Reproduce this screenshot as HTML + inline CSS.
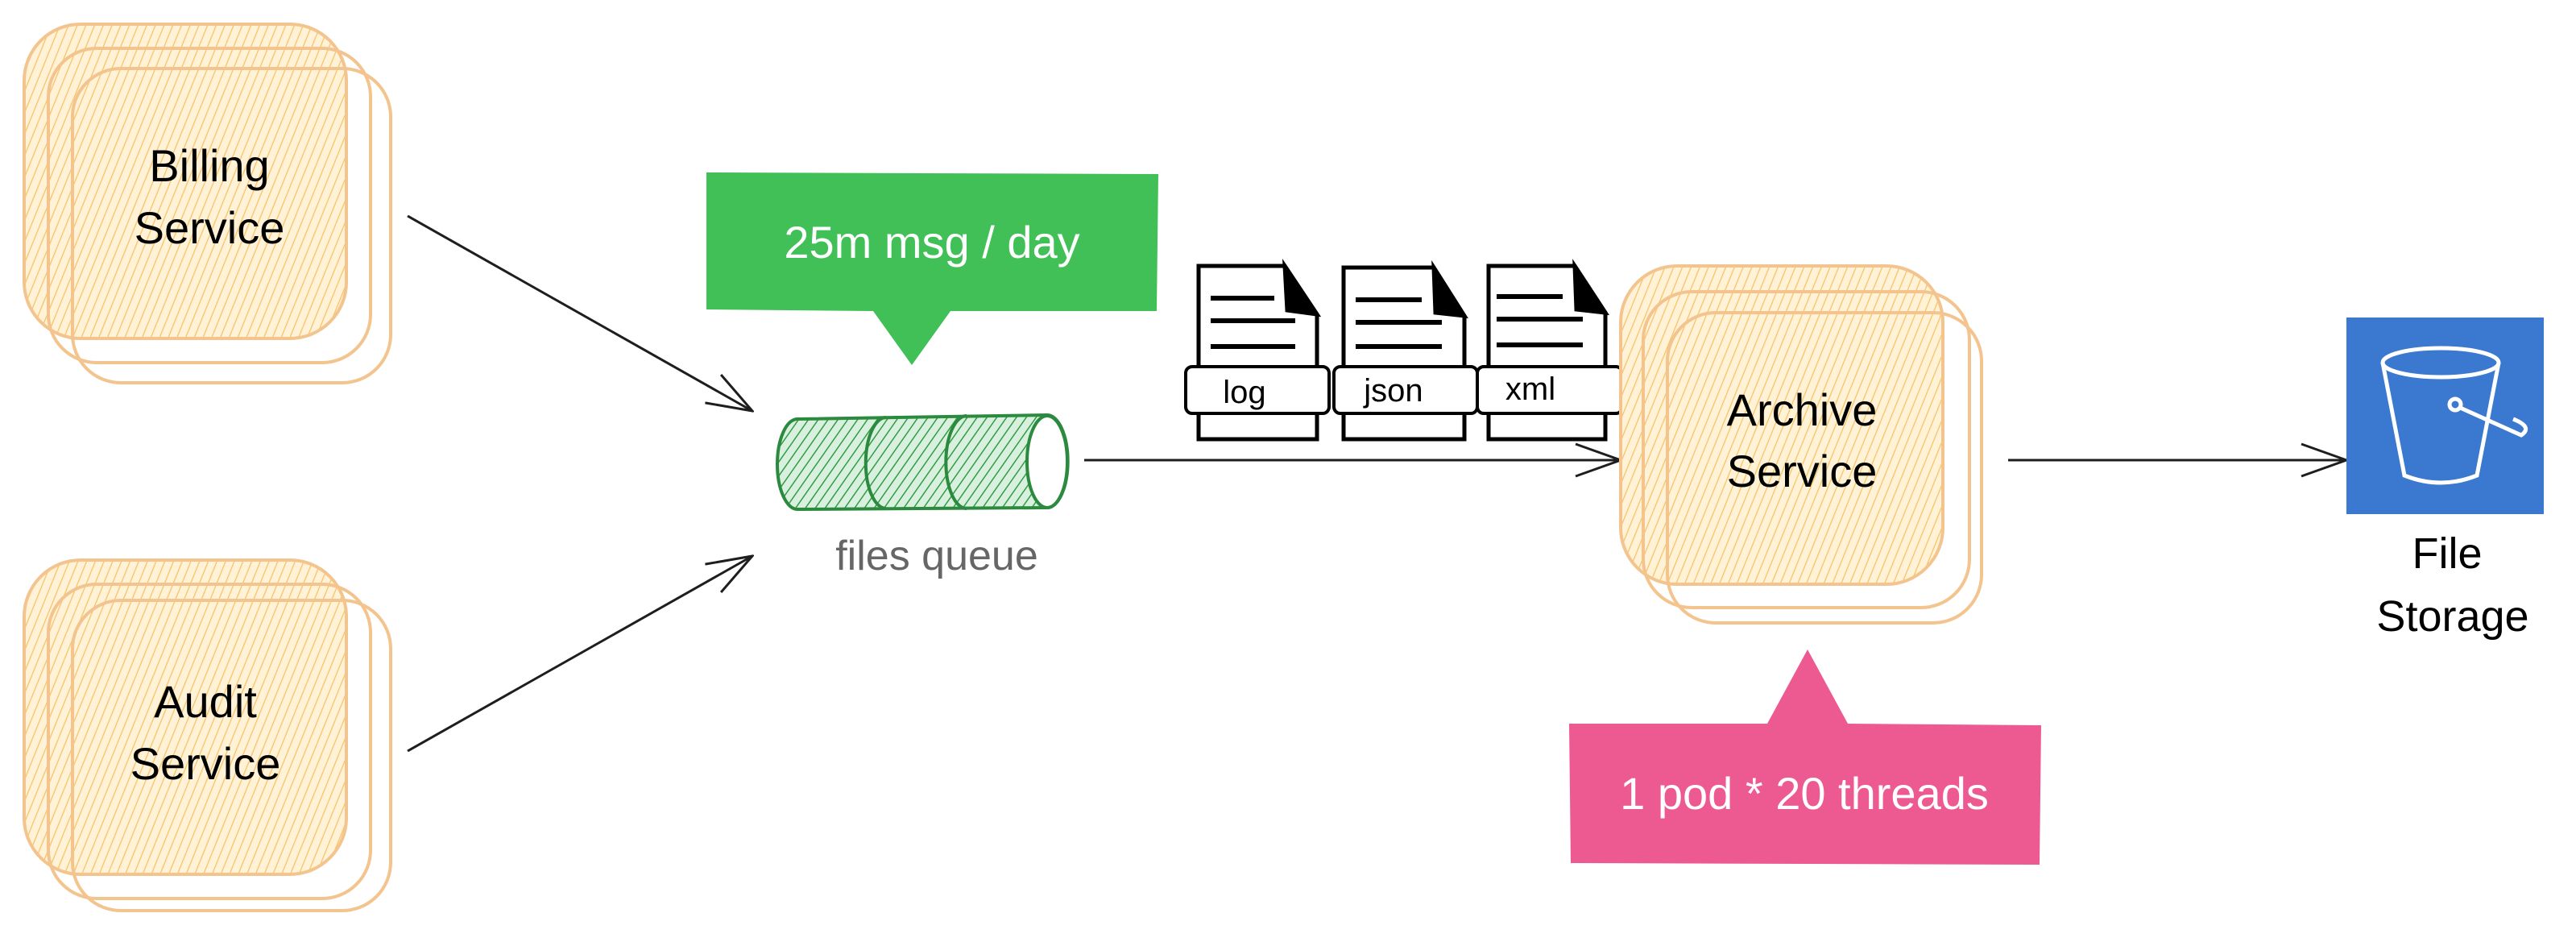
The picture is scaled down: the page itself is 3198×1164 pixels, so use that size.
<!DOCTYPE html>
<html><head><meta charset="utf-8"><style>
html,body{margin:0;padding:0;background:#fff;}
svg{display:block;}
.hand{font-family:"Comic Sans MS","Liberation Sans",sans-serif;}
</style></head><body>
<svg width="3198" height="1164" viewBox="0 0 3198 1164" xmlns="http://www.w3.org/2000/svg">
<defs>
<pattern id="h" width="10" height="10" patternUnits="userSpaceOnUse" patternTransform="rotate(22)">
<rect width="10" height="10" fill="#fff2d6"/>
<line x1="0" y1="0" x2="0" y2="10" stroke="#f6c265" stroke-width="2.5"/>
</pattern>
<pattern id="g" width="10" height="10" patternUnits="userSpaceOnUse" patternTransform="rotate(35)">
<rect width="10" height="10" fill="#d9f0de"/>
<line x1="0" y1="0" x2="0" y2="10" stroke="#2f9e44" stroke-width="3"/>
</pattern>
<marker id="a" markerWidth="60" markerHeight="44" refX="58" refY="22" orient="auto" markerUnits="userSpaceOnUse">
<path d="M2,2 L58,22 L2,42" fill="none" stroke="#1e1e1e" stroke-width="3"/>
</marker>
</defs>

<!-- Billing -->
<g stroke="#f3c48e" stroke-width="4" fill="url(#h)">
<rect x="30" y="30" width="400" height="390" rx="70"/>
<rect x="60" y="60" width="400" height="390" rx="60" fill="none"/>
<rect x="90" y="85" width="395" height="390" rx="60" fill="none"/>
</g>
<text class="hand" x="260" y="225" font-size="56" text-anchor="middle">Billing</text>
<text class="hand" x="260" y="302" font-size="56" text-anchor="middle">Service</text>

<!-- Audit -->
<g stroke="#f3c48e" stroke-width="4" fill="url(#h)">
<rect x="30" y="695" width="400" height="390" rx="70"/>
<rect x="60" y="725" width="400" height="390" rx="60" fill="none"/>
<rect x="90" y="745" width="395" height="385" rx="60" fill="none"/>
</g>
<text class="hand" x="255" y="890" font-size="56" text-anchor="middle">Audit</text>
<text class="hand" x="255" y="967" font-size="56" text-anchor="middle">Service</text>

<!-- arrows -->
<g stroke="#1e1e1e" stroke-width="3" fill="none">
<line x1="506" y1="268" x2="934" y2="510" marker-end="url(#a)"/>
<line x1="506" y1="932" x2="934" y2="690" marker-end="url(#a)"/>
<line x1="1346" y1="571" x2="2012" y2="571" marker-end="url(#a)"/>
<line x1="2493" y1="571" x2="2913" y2="571" marker-end="url(#a)"/>
</g>

<!-- green callout -->
<path d="M877,214 L1438,216 L1436,386 L1180,386 L1132,453 L1084,386 L877,384 Z" fill="#40c057"/>
<text x="1157" y="320" font-family="Liberation Sans, sans-serif" font-size="56" fill="#fff" text-anchor="middle">25m msg / day</text>

<!-- queue cylinder -->
<g stroke="#2b8a3e" stroke-width="4">
<path d="M990,520 L1300,515 A25,56 0 0 1 1300,630 L990,632 A25,56 0 0 1 990,520 Z" fill="url(#g)"/>
<ellipse cx="1300" cy="573" rx="25" ry="57" fill="#fff"/>
<path d="M1100,518 A25,56 0 0 0 1100,631 M1200,516 A25,56 0 0 0 1200,631" fill="none"/>
</g>
<text class="hand" x="1163" y="707" font-size="52" fill="#666" text-anchor="middle">files queue</text>

<!-- docs -->
<g stroke="#000" stroke-width="5" fill="#fff">
<path d="M1488,330 L1595,330 L1635,390 L1635,545 L1488,545 Z"/>
<path d="M1668,332 L1780,332 L1818,392 L1818,545 L1668,545 Z"/>
<path d="M1848,330 L1955,330 L1993,388 L1993,545 L1848,545 Z"/>
<path d="M1595,330 L1598,385 L1635,390 Z" fill="#000"/>
<path d="M1780,332 L1782,388 L1818,392 Z" fill="#000"/>
<path d="M1955,330 L1957,384 L1993,388 Z" fill="#000"/>
</g>
<g stroke="#000" stroke-width="6">
<line x1="1503" y1="370" x2="1582" y2="370"/><line x1="1503" y1="398" x2="1608" y2="398"/><line x1="1503" y1="430" x2="1608" y2="430"/>
<line x1="1683" y1="372" x2="1765" y2="372"/><line x1="1683" y1="400" x2="1790" y2="400"/><line x1="1683" y1="430" x2="1790" y2="430"/>
<line x1="1858" y1="368" x2="1940" y2="368"/><line x1="1858" y1="396" x2="1965" y2="396"/><line x1="1858" y1="428" x2="1965" y2="428"/>
</g>
<g stroke="#000" stroke-width="4" fill="#fff">
<rect x="1472" y="455" width="178" height="58" rx="8"/>
<rect x="1656" y="455" width="178" height="58" rx="8"/>
<rect x="1834" y="455" width="180" height="58" rx="8"/>
</g>
<text class="hand" x="1545" y="500" font-size="40" text-anchor="middle">log</text>
<text class="hand" x="1730" y="498" font-size="40" text-anchor="middle">json</text>
<text class="hand" x="1900" y="496" font-size="40" text-anchor="middle">xml</text>

<!-- Archive -->
<g stroke="#f3c48e" stroke-width="4" fill="url(#h)">
<rect x="2012" y="330" width="400" height="395" rx="70"/>
<rect x="2040" y="362" width="405" height="392" rx="60" fill="none"/>
<rect x="2070" y="388" width="390" height="385" rx="60" fill="none"/>
</g>
<text class="hand" x="2237" y="528" font-size="56" text-anchor="middle">Archive</text>
<text class="hand" x="2237" y="604" font-size="56" text-anchor="middle">Service</text>

<!-- storage icon -->
<rect x="2913" y="394" width="245" height="244" fill="#3b78cf"/>
<g stroke="#fff" stroke-width="5" fill="none">
<ellipse cx="3030" cy="450" rx="72" ry="18"/>
<path d="M2958,450 L2985,590 Q3030,608 3075,590 L3102,450"/>
<circle cx="3048" cy="502" r="7"/>
<path d="M3052,505 L3130,540 Q3145,530 3120,520"/>
</g>
<text class="hand" x="3038" y="705" font-size="54" text-anchor="middle">File</text>
<text class="hand" x="3045" y="783" font-size="54" text-anchor="middle">Storage</text>

<!-- pink callout -->
<path d="M1948,898 L2194,898 L2244,806 L2294,898 L2534,900 L2532,1073 L1950,1071 Z" fill="#ed5a91"/>
<text x="2240" y="1004" font-family="Liberation Sans, sans-serif" font-size="56" fill="#fff" text-anchor="middle">1 pod * 20 threads</text>
</svg>
</body></html>
